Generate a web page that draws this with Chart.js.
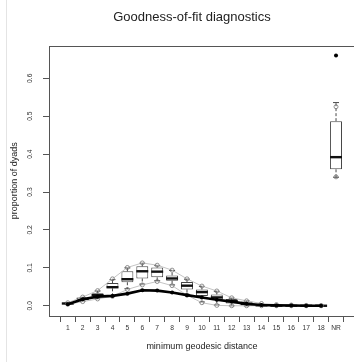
<!DOCTYPE html>
<html>
<head>
<meta charset="utf-8">
<script src="https://cdn.jsdelivr.net/npm/chart.js@4.4.1/dist/chart.umd.min.js"></script>
<style>
  html, body { margin: 0; padding: 0; background: #fff; overflow: hidden; }
  #wrap { width: 356px; height: 362px; }
</style>
</head>
<body>
<div id="wrap"><canvas id="gof" width="356" height="362"></canvas></div>
<script>
// ergm goodness-of-fit: minimum geodesic distance (simulated boxplots vs observed)
const distLabels = ['1', '2', '3', '4', '5', '6', '7', '8', '9', '10', '11', '12', '13', '14', '15', '16', '17', '18', 'NR'];
const obsProp    = [0.004, 0.017, 0.024, 0.026, 0.032, 0.041, 0.040, 0.035, 0.028, 0.022, 0.016, 0.011, 0.005, 0.002, 0.001, 0.0005, 0.0002, 0.0001, 0.660];

// simulated distribution: whisker ends, quartiles, median
const simLow  = [0.004, 0.012, 0.019, 0.027, 0.045, 0.057, 0.066, 0.055, 0.030, 0.010, 0.002, 0.000, 0.000, 0.000, 0.000, 0.000, 0.000, 0.000, 0.339];
const simQ1   = [0.005, 0.016, 0.025, 0.046, 0.062, 0.072, 0.075, 0.066, 0.043, 0.026, 0.015, 0.006, 0.001, 0.000, 0.000, 0.000, 0.000, 0.000, 0.360];
const simMed  = [0.006, 0.018, 0.028, 0.049, 0.070, 0.091, 0.090, 0.072, 0.053, 0.036, 0.022, 0.012, 0.005, 0.001, 0.000, 0.000, 0.000, 0.000, 0.392];
const simQ3   = [0.007, 0.020, 0.033, 0.060, 0.091, 0.104, 0.101, 0.080, 0.063, 0.043, 0.030, 0.018, 0.011, 0.002, 0.001, 0.000, 0.000, 0.000, 0.487];
const simHigh = [0.008, 0.022, 0.039, 0.069, 0.100, 0.112, 0.106, 0.093, 0.070, 0.051, 0.038, 0.020, 0.013, 0.005, 0.003, 0.002, 0.001, 0.0005, 0.536];

// 95% bounds (circles + gray lines)
const boundLow  = [0.004, 0.011, 0.018, 0.025, 0.043, 0.055, 0.064, 0.053, 0.028, 0.008, 0.001, 0.000, 0.000, 0.000, 0.000, 0.000, 0.000, 0.000, 0.340];
const boundHigh = [0.008, 0.023, 0.040, 0.071, 0.101, 0.113, 0.107, 0.094, 0.071, 0.052, 0.039, 0.021, 0.013, 0.006, 0.003, 0.002, 0.001, 0.0005, 0.525];

const yTicks = [0, 0.1, 0.2, 0.3, 0.4, 0.5, 0.6];

const xPos = distLabels.map((_, i) => i + 1);
const pts = arr => arr.map((v, i) => ({ x: xPos[i], y: v }));
const noNR = arr => pts(arr).slice(0, -1);

Chart.defaults.font.family = '"Liberation Sans", Arial, Helvetica, sans-serif';
Chart.defaults.color = '#333';

const BOX_IDX = 6;

// whiskers, staples and medians, drawn right after the boxes
const boxExtras = {
    id: 'boxExtras',
    afterDatasetDraw(chart, args) {
        if (args.index !== BOX_IDX) return;
        const { ctx, scales: { x, y } } = chart;
        const unit = x.getPixelForValue(2) - x.getPixelForValue(1);
        const halfBox = unit * 0.4;
        const halfCap = unit * 0.2;
        ctx.save();
        ctx.strokeStyle = '#333';
        xPos.forEach((p, i) => {
            const px = x.getPixelForValue(p);
            const yLo = y.getPixelForValue(simLow[i]);
            const yQ1 = y.getPixelForValue(simQ1[i]);
            const yQ3 = y.getPixelForValue(simQ3[i]);
            const yHi = y.getPixelForValue(simHigh[i]);
            // dashed whiskers
            ctx.lineWidth = 0.9;
            ctx.setLineDash([3, 2]);
            ctx.beginPath();
            ctx.moveTo(px, yQ3); ctx.lineTo(px, yHi);
            ctx.moveTo(px, yQ1); ctx.lineTo(px, yLo);
            ctx.stroke();
            // staples
            ctx.setLineDash([]);
            ctx.beginPath();
            ctx.moveTo(px - halfCap, yHi); ctx.lineTo(px + halfCap, yHi);
            ctx.moveTo(px - halfCap, yLo); ctx.lineTo(px + halfCap, yLo);
            ctx.stroke();
            // median
            const yM = y.getPixelForValue(simMed[i]);
            ctx.lineWidth = 2.4;
            ctx.strokeStyle = '#111';
            ctx.beginPath();
            ctx.moveTo(px - halfBox, yM); ctx.lineTo(px + halfBox, yM);
            ctx.stroke();
            ctx.strokeStyle = '#333';
        });
        ctx.restore();
    }
};

// frame, main title and the faint page edge line
const decor = {
    id: 'decor',
    beforeDraw(chart) {
        const { ctx } = chart;
        ctx.save();
        ctx.strokeStyle = '#e4e4e4';
        ctx.lineWidth = 1;
        ctx.beginPath();
        ctx.moveTo(6.5, 0); ctx.lineTo(6.5, chart.height);
        ctx.stroke();
        ctx.restore();
    },
    afterDraw(chart) {
        const { ctx, chartArea: a } = chart;
        ctx.save();
        ctx.strokeStyle = '#555';
        ctx.lineWidth = 1;
        ctx.strokeRect(Math.round(a.left) + 0.5, Math.round(a.top) + 0.5, a.right - a.left, Math.round(a.bottom) - Math.round(a.top));
        ctx.fillStyle = '#222';
        ctx.font = '13px "Liberation Sans", Arial, sans-serif';
        ctx.textAlign = 'center';
        ctx.textBaseline = 'middle';
        ctx.fillText('Goodness-of-fit diagnostics', 192, 17);
        ctx.restore();
    }
};

new Chart(document.getElementById('gof'), {
    type: 'line',
    data: {
        datasets: [
            { // 0 observed points (incl. NR)
                type: 'scatter', data: pts(obsProp),
                pointRadius: 2, pointBackgroundColor: '#000', pointBorderColor: '#000', pointBorderWidth: 0
            },
            { // 1 observed line
                data: noNR(obsProp), borderColor: '#000', borderWidth: 2.6, pointRadius: 0, tension: 0, fill: false
            },
            { // 2 lower bound circles
                type: 'scatter', data: pts(boundLow),
                pointRadius: 2, pointBackgroundColor: 'rgba(0,0,0,0)', pointBorderColor: '#777', pointBorderWidth: 0.8
            },
            { // 3 upper bound circles
                type: 'scatter', data: pts(boundHigh),
                pointRadius: 2, pointBackgroundColor: 'rgba(0,0,0,0)', pointBorderColor: '#777', pointBorderWidth: 0.8
            },
            { // 4 lower bound line
                data: noNR(boundLow), borderColor: '#c4c4c4', borderWidth: 1, pointRadius: 0, tension: 0, fill: false
            },
            { // 5 upper bound line
                data: noNR(boundHigh), borderColor: '#c4c4c4', borderWidth: 1, pointRadius: 0, tension: 0, fill: false
            },
            { // 6 boxes (q1..q3)
                type: 'bar',
                data: xPos.map((p, i) => ({ x: p, y: [simQ1[i], simQ3[i]] })),
                backgroundColor: '#fff', borderColor: '#444', borderWidth: 1, borderSkipped: false,
                barPercentage: 0.8, categoryPercentage: 1, grouped: false
            }
        ]
    },
    options: {
        responsive: false,
        animation: false,
        layout: { autoPadding: false, padding: { top: 45.7, right: 1.2, left: 0, bottom: 0 } },
        plugins: { legend: { display: false }, tooltip: { enabled: false }, title: { display: false } },
        scales: {
            x: {
                type: 'linear', min: -0.26, max: 20.26, offset: false,
                afterBuildTicks: s => { s.ticks = xPos.map(v => ({ value: v })); },
                afterFit: s => { s.height = 46; },
                ticks: { callback: v => distLabels[v - 1], font: { size: 6.7 }, color: '#333', padding: 2, maxRotation: 0, autoSkip: false },
                grid: { drawOnChartArea: false, tickLength: 6, color: '#555' },
                border: { display: false },
                title: { display: true, text: 'minimum geodesic distance', font: { size: 9 }, color: '#222', padding: { top: 0, bottom: 10 } }
            },
            y: {
                min: -0.027, max: 0.686,
                afterBuildTicks: s => { s.ticks = yTicks.map(v => ({ value: v })); },
                afterFit: s => { s.width = 49; },
                ticks: { callback: v => v.toFixed(1), font: { size: 6.7 }, color: '#333', minRotation: 90, maxRotation: 90, crossAlign: 'center', padding: 8 },
                grid: { drawOnChartArea: false, tickLength: 6, color: '#555' },
                border: { display: false },
                title: { display: true, text: 'proportion of dyads', font: { size: 9 }, color: '#222', padding: { top: 9.6, bottom: 0 } }
            }
        }
    },
    plugins: [boxExtras, decor]
});
</script>
</body>
</html>
